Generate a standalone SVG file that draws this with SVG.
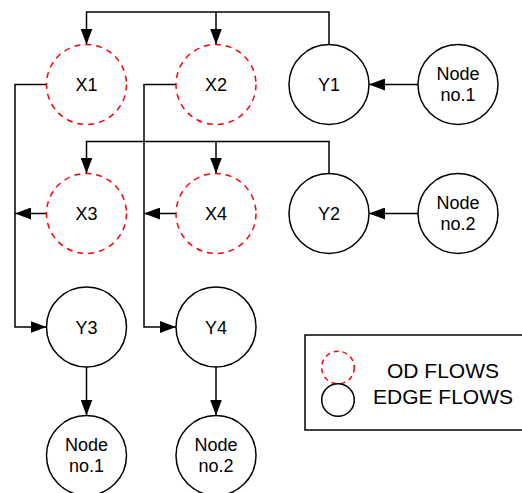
<svg xmlns="http://www.w3.org/2000/svg" width="522" height="493" viewBox="0 0 522 493">
<style>
.n{fill:#fff;stroke:#000;stroke-width:1.5}
.od{fill:#fff;stroke:#ff0000;stroke-width:1.5;stroke-dasharray:6 5}
.t{font-family:"Liberation Sans",Arial,sans-serif;font-size:18px;fill:#000;text-anchor:middle}
.lg{font-family:"Liberation Sans",Arial,sans-serif;font-size:21px;fill:#000;text-anchor:middle}
.c{fill:none;stroke:#000;stroke-width:1.5}
</style>
<defs>
<marker id="a" markerUnits="userSpaceOnUse" markerWidth="17" markerHeight="12" refX="16" refY="6" orient="auto" viewBox="0 0 17 12">
<path d="M0,0 L16,6 L0,12 z" fill="#000"/>
</marker>
</defs>
<rect width="522" height="493" fill="#fff"/>
<g id="connectors" class="c">
<path d="M329,44.5 V12 H86.5 V44.5" marker-end="url(#a)"/>
<path d="M216,12 V44.5" marker-end="url(#a)"/>
<path d="M329,173.5 V141.5 H86.5 V173.5" marker-end="url(#a)"/>
<path d="M216,141.5 V173.5" marker-end="url(#a)"/>
<path d="M418,84.5 H369" marker-end="url(#a)"/>
<path d="M418,213.5 H369" marker-end="url(#a)"/>
<path d="M46.5,84.5 H15 V327 H46.5" marker-end="url(#a)"/>
<path d="M46.5,213.5 H15" marker-end="url(#a)"/>
<path d="M176,84.5 H144 V327 H176" marker-end="url(#a)"/>
<path d="M176,213.5 H144" marker-end="url(#a)"/>
<path d="M86.5,367 V415.5" marker-end="url(#a)"/>
<path d="M216,367 V415.5" marker-end="url(#a)"/>
</g>
<g id="X1"><circle class="od" cx="86.5" cy="84.5" r="40"/><text class="t" x="86.5" y="91">X1</text></g>
<g id="X2"><circle class="od" cx="216" cy="84.5" r="40"/><text class="t" x="216" y="91">X2</text></g>
<g id="Y1"><circle class="n" cx="329" cy="84.5" r="40"/><text class="t" x="329" y="91">Y1</text></g>
<g id="Node1a"><circle class="n" cx="458" cy="84.5" r="40"/><text class="t" x="458" y="80">Node</text><text class="t" x="458" y="101">no.1</text></g>
<g id="X3"><circle class="od" cx="86.5" cy="213.5" r="40"/><text class="t" x="86.5" y="220">X3</text></g>
<g id="X4"><circle class="od" cx="216" cy="213.5" r="40"/><text class="t" x="216" y="220">X4</text></g>
<g id="Y2"><circle class="n" cx="329" cy="213.5" r="40"/><text class="t" x="329" y="220">Y2</text></g>
<g id="Node2a"><circle class="n" cx="458" cy="213.5" r="40"/><text class="t" x="458" y="209">Node</text><text class="t" x="458" y="230">no.2</text></g>
<g id="Y3"><circle class="n" cx="86.5" cy="327" r="40"/><text class="t" x="86.5" y="333.5">Y3</text></g>
<g id="Y4"><circle class="n" cx="216" cy="327" r="40"/><text class="t" x="216" y="333.5">Y4</text></g>
<g id="Node1b"><circle class="n" cx="86.5" cy="455.5" r="40"/><text class="t" x="86.5" y="451">Node</text><text class="t" x="86.5" y="472">no.1</text></g>
<g id="Node2b"><circle class="n" cx="216" cy="455.5" r="40"/><text class="t" x="216" y="451">Node</text><text class="t" x="216" y="472">no.2</text></g>
<g id="legend">
<rect x="305" y="335" width="230" height="95" fill="#fff" stroke="#000" stroke-width="1.5"/>
<circle cx="338" cy="367.5" r="16.3" fill="none" stroke="#ff0000" stroke-width="1.5" stroke-dasharray="5 4"/>
<circle cx="338" cy="400" r="16.3" fill="none" stroke="#000" stroke-width="1.5"/>
<text class="lg" x="443" y="377.5">OD FLOWS</text>
<text class="lg" x="443" y="404">EDGE FLOWS</text>
</g>
</svg>
